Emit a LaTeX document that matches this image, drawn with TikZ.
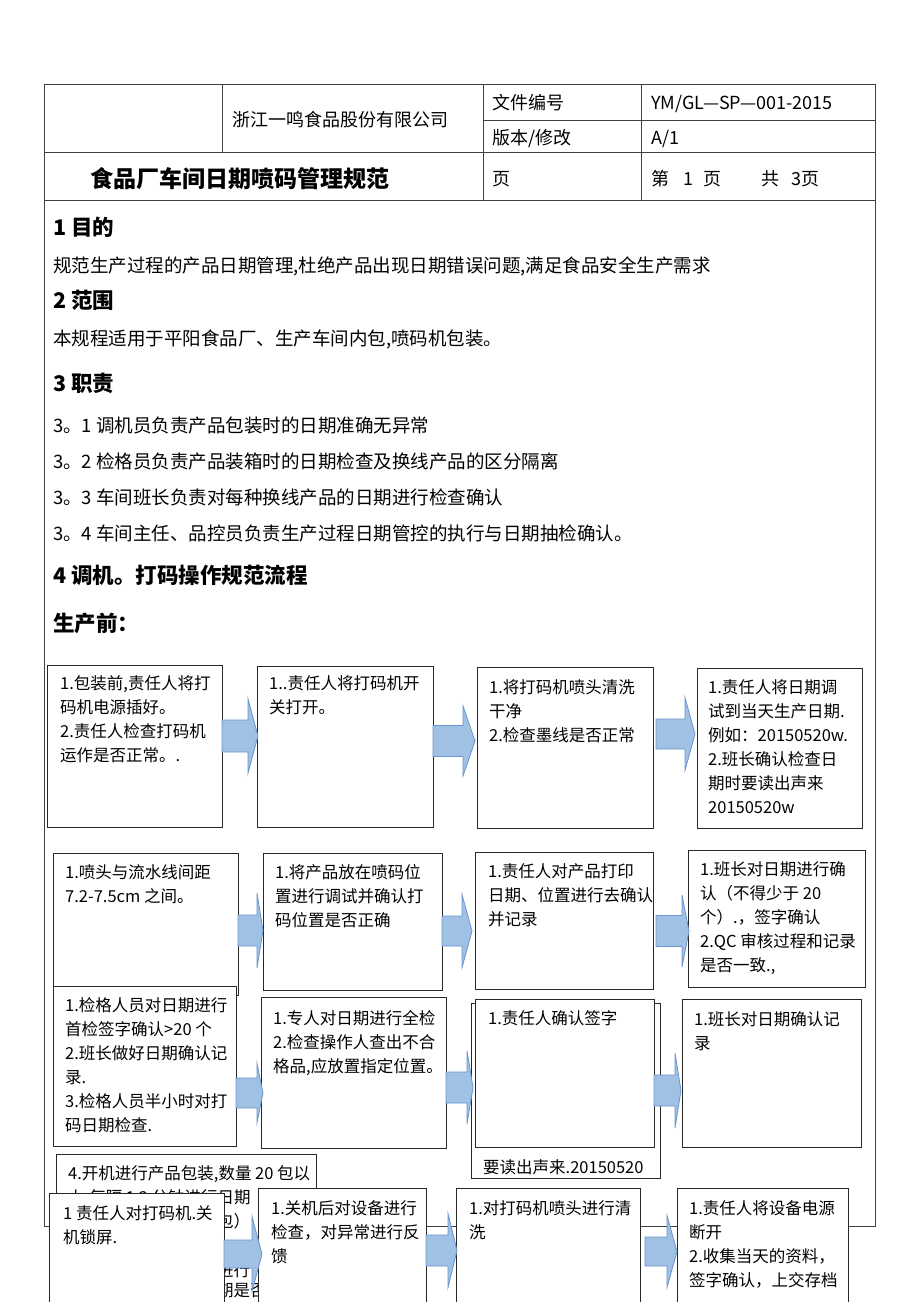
\documentclass[tikz,border=0pt]{standalone}
\usepackage{fontspec}
\setmainfont{Noto Sans CJK SC}
\definecolor{arrfill}{RGB}{160,192,228}
\definecolor{arrdraw}{RGB}{105,150,205}
\definecolor{boxline}{RGB}{40,40,40}
\tikzset{
 box/.style={draw=boxline, line width=1pt, fill=white, anchor=north west, inner sep=0},
 bt/.style={font=\fontsize{16.5}{20}\selectfont, inner sep=0, anchor=base west},
 body/.style={font=\fontsize{18.5}{22}\selectfont, inner sep=0, anchor=base west},
 head/.style={font=\bfseries\fontsize{21.5}{24}\selectfont, inner sep=0, anchor=base west},
 cell/.style={font=\fontsize{18}{22}\selectfont, inner sep=0, anchor=base west},
 frame/.style={draw=black!75, line width=0.9pt},
 blkarrow/.style={fill=arrfill, draw=arrdraw, line width=0.8pt, line join=miter},
}
\newcommand\flowbox[5]{\node[box, minimum width=#4pt, minimum height=#5pt] (#1) at (#2,#3) {};}
\newcommand\mylines[4]{%
  \foreach \myl [count=\k] in {#4} {
    \node[bt] (#1-\k) at (#2, {#3+6.3+(\k-1)*24}) {\myl};
  }}
\newcommand\barrow[6]{% x0 xb x1 yc hs hh
  \draw[blkarrow] (#1,#4-#5) -- (#2,#4-#5) -- (#2,#4-#6) -- (#3,#4) -- (#2,#4+#6) -- (#2,#4+#5) -- (#1,#4+#5) -- cycle;}
\begin{document}
\begin{tikzpicture}[x=1pt,y=-1pt]
\clip (0,0) rectangle (920,1302);
\fill[white] (0,0) rectangle (920,1302);
% outer frame and header table
\draw[frame] (44,84) rectangle (875,1226);
\draw[frame] (483,120) -- (875,120);
\draw[frame] (44,152) -- (875,152);
\draw[frame] (44,200) -- (875,200);
\draw[frame] (222,84) -- (222,152);
\draw[frame] (483,84) -- (483,200);
\draw[frame] (641,84) -- (641,200);
\node[cell] (co) at (232,126) {浙江一鸣食品股份有限公司};
\node[cell] (wj) at (492,109) {文件编号};
\node[cell] (wjv) at (651,109) {YM/GL—SP—001-2015};
\node[cell] (bb) at (492,144) {版本/修改};
\node[cell] (bbv) at (651,144) {A/1};
\node[font=\bfseries\fontsize{23}{26}\selectfont, inner sep=0, anchor=base west] (title) at (90,187) {食品厂车间日期喷码管理规范};
\node[cell] (ye) at (492,185) {页};
\node[cell] (yev) at (651,185) {第\hspace{14pt}1\hspace{10pt}页\hspace{40pt}共\hspace{12pt}3页};
% sections
\node[head] (s1) at (53,235) {1 目的};
\node[body] (p1) at (53,272) {规范生产过程的产品日期管理,杜绝产品出现日期错误问题,满足食品安全生产需求};
\node[head] (s2) at (53,308) {2 范围};
\node[body] (p2) at (53,345) {本规程适用于平阳食品厂、生产车间内包,喷码机包装。};
\node[head] (s3) at (53,391) {3 职责};
\node[body] (p31) at (53,432) {3。1 调机员负责产品包装时的日期准确无异常};
\node[body] (p32) at (53,468) {3。2 检格员负责产品装箱时的日期检查及换线产品的区分隔离};
\node[body] (p33) at (53,504) {3。3 车间班长负责对每种换线产品的日期进行检查确认};
\node[body] (p34) at (53,540) {3。4 车间主任、品控员负责生产过程日期管控的执行与日期抽检确认。};
\node[head] (s4) at (53,583) {4 调机。打码操作规范流程};
\node[head] (s5) at (53,631) {生产前：};
% row 1
\flowbox{b1}{47}{665}{175}{162}
\mylines{b1t}{60}{683}{{1.包装前,责任人将打},{码机电源插好。},{2.责任人检查打码机},{运作是否正常。.}}
\flowbox{b2}{257}{666}{176}{161}
\mylines{b2t}{269}{683}{{1..责任人将打码机开},{关打开。}}
\flowbox{b3}{477}{667}{176}{161}
\mylines{b3t}{489}{687}{{1.将打码机喷头清洗},{干净},{2.检查墨线是否正常}}
\flowbox{b4}{697}{668}{165}{160}
\mylines{b4t}{708}{687}{{1.责任人将日期调},{试到当天生产日期.},{例如：20150520w.},{2.班长确认检查日},{期时要读出声来},{20150520w}}
% row 2
\flowbox{b5}{53}{853}{185}{142}
\mylines{b5t}{65}{872}{{1.喷头与流水线间距},{7.2-7.5cm 之间。}}
\flowbox{b6}{263}{853}{179}{137}
\mylines{b6t}{275}{872}{{1.将产品放在喷码位},{置进行调试并确认打},{码位置是否正确}}
\flowbox{b7}{475}{852}{178}{137}
\mylines{b7t}{488}{871}{{1.责任人对产品打印},{日期、位置进行去确认},{并记录}}
\flowbox{b8}{688}{850}{177}{137}
\mylines{b8t}{700}{869}{{1.班长对日期进行确},{认（不得少于 20},{个）.，签字确认},{2.QC 审核过程和记录},{是否一致.,}}
% row 3
\flowbox{b9}{53}{986}{183}{160}
\mylines{b9t}{65}{1005}{{1.检格人员对日期进行},{首检签字确认>20 个},{2.班长做好日期确认记},{录.},{3.检格人员半小时对打},{码日期检查.}}
\flowbox{b10}{261}{997}{185}{151}
\mylines{b10t}{273}{1018}{{1.专人对日期进行全检},{2.检查操作人查出不合},{格品,应放置指定位置。}}
\flowbox{b11b}{471}{1003}{189}{175}
\node[bt] (b11bt) at (483,1173) {要读出声来.20150520};
\flowbox{b11}{475}{999}{179}{148}
\mylines{b11t}{488}{1018}{{1.责任人确认签字}}
\flowbox{b12}{682}{999}{179}{148}
\mylines{b12t}{694}{1019}{{1.班长对日期确认记},{录}}
% row 4
\flowbox{h4}{56}{1154}{260}{170}
\mylines{h4t}{68}{1173}{{4.开机进行产品包装,数量 20 包以},{上,每隔 1~2 分钟进行日期}}
\node[bt] (h4f3) at (217,1227) {包）};
\node[bt] (h4f5) at (217,1276) {进行};
\node[bt] (h4f6) at (217,1296) {期是否};
\flowbox{f1}{49}{1193}{175}{130}
\mylines{f1t}{63}{1213}{{1 责任人对打码机.关},{机锁屏.}}
\flowbox{f2}{258}{1188}{168}{135}
\mylines{f2t}{271}{1208}{{1.关机后对设备进行},{检查，对异常进行反},{馈}}
\flowbox{f3}{456}{1188}{184}{135}
\mylines{f3t}{469}{1208}{{1.对打码机喷头进行清},{洗}}
\flowbox{f4}{677}{1188}{171}{135}
\mylines{f4t}{689}{1208}{{1.责任人将设备电源},{断开},{2.收集当天的资料，},{签字确认，上交存档}}
% block arrows
\barrow{222}{248}{258}{736}{16}{37}
\barrow{433}{463}{475}{741}{15.5}{35}
\barrow{656}{685}{695}{734}{15}{36.5}
\barrow{238}{257}{263}{930.5}{15.5}{37.5}
\barrow{442}{462}{472}{931}{15}{36.5}
\barrow{656}{682}{689}{931}{15.5}{36}
\barrow{236}{257}{263}{1093}{15}{29.5}
\barrow{446}{467}{473}{1087.5}{15.5}{36.5}
\barrow{654}{675}{681}{1090.5}{15.5}{37.5}
\barrow{224}{252}{262}{1254}{14}{37.5}
\barrow{426}{448}{457}{1250.5}{15.5}{37}
\barrow{645}{667}{677}{1251.5}{14.5}{36}
\end{tikzpicture}
\end{document}
